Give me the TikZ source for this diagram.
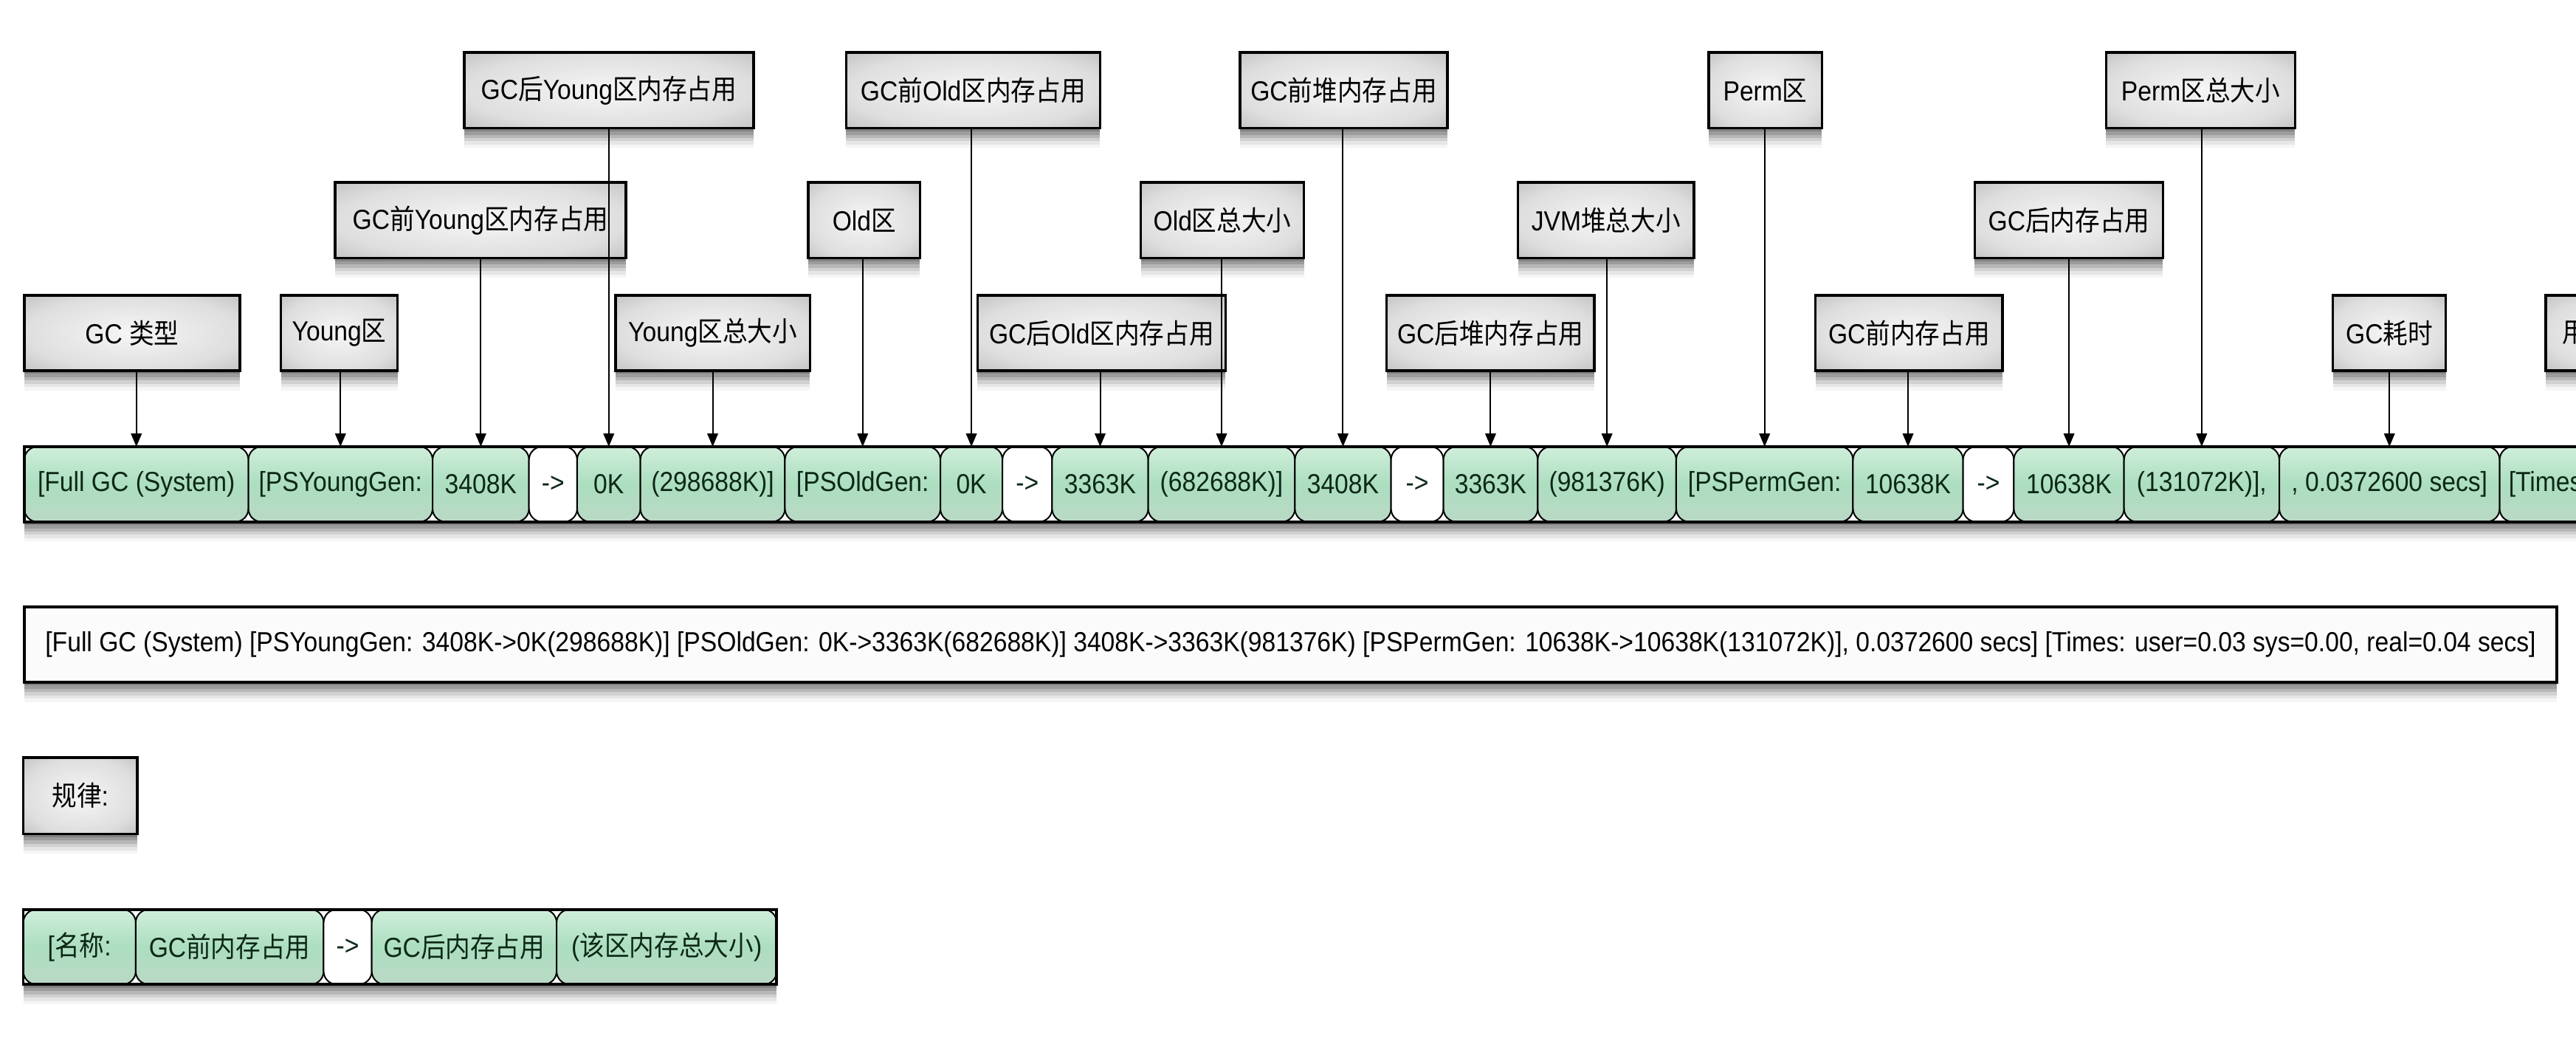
\documentclass[tikz,border=0pt]{standalone}
\usepackage{fontspec}
\setmainfont{Liberation Sans}[FakeStretch=0.9]
\newfontfamily\cjkf{Noto Sans CJK SC}[FakeStretch=0.9]
\newcommand\zhs[1]{{\cjkf #1}}
\newcommand\fsz{\fontsize{16.8pt}{20pt}\selectfont}
\usetikzlibrary{arrows.meta,shadows}
\definecolor{boxC}{RGB}{246,246,246}
\definecolor{boxM}{RGB}{222,222,222}
\definecolor{boxE}{RGB}{160,160,160}
\definecolor{cellT}{RGB}{238,249,242}
\definecolor{cellU}{RGB}{212,240,222}
\definecolor{cellM}{RGB}{172,222,192}
\definecolor{cellL}{RGB}{188,216,198}
\definecolor{cellB}{RGB}{206,212,208}
\definecolor{cellText}{RGB}{12,40,22}
\pgfdeclareradialshading{boxshade}{\pgfpoint{0bp}{0bp}}{color(0bp)=(boxC); color(25bp)=(boxM); color(50bp)=(boxE); color(75bp)=(boxE)}
\pgfdeclareverticalshading{cellshade}{100bp}{color(0bp)=(cellB); color(22bp)=(cellL); color(50bp)=(cellM); color(78bp)=(cellU); color(100bp)=(cellT)}
\tikzset{
  shdw/.style={
    general shadow={fill=black,opacity=.16,shadow yshift=-2pt},
    general shadow={fill=black,opacity=.14,shadow yshift=-4pt},
    general shadow={fill=black,opacity=.12,shadow yshift=-6pt},
    general shadow={fill=black,opacity=.09,shadow yshift=-8pt},
    general shadow={fill=black,opacity=.06,shadow yshift=-10pt},
    general shadow={fill=black,opacity=.04,shadow yshift=-12pt}},
  lbl/.style={draw, line width=1.6pt, shading=boxshade, shdw, inner sep=1pt,
    outer sep=0pt, font=\fsz, anchor=north west},
  cellbase/.style={draw, line width=0.9pt, rounded corners=8pt, inner sep=1pt,
    outer sep=0pt, minimum height=45.7pt, font=\fsz, text=cellText, anchor=west},
  gcell/.style={cellbase, shading=cellshade},
  wcell/.style={cellbase, fill=white},
  stripbg/.style={fill=white, shdw, inner sep=0pt, outer sep=0pt, anchor=north west},
  frame/.style={draw, line width=1.7pt},
  conn/.style={line width=0.9pt, -{Triangle[length=8pt,width=6.5pt]}},
  linebox/.style={draw, line width=1.7pt, fill=white!97!gray, shdw, inner sep=0pt,
    outer sep=0pt, font=\fsz, anchor=north west}
}
\begin{document}
\begin{tikzpicture}[x=1pt,y=-1pt]
\useasboundingbox (0,0) rectangle (1568,637);
\clip (0,0) rectangle (1568,637);
\fill[white] (0,0) rectangle (1568,637);

% ---- label boxes, top row
\node[lbl, minimum width=176.3pt, minimum height=46pt] (t1) at (282.5,32) {GC\zhs{后}Young\zhs{区内存占用}};
\node[lbl, minimum width=154.6pt, minimum height=46pt] (t2) at (515,32) {GC\zhs{前}Old\zhs{区内存占用}};
\node[lbl, minimum width=126.2pt, minimum height=46pt] (t3) at (754.8,32) {GC\zhs{前堆内存占用}};
\node[lbl, minimum width=69pt, minimum height=46pt] (t4) at (1040,32) {Perm\zhs{区}};
\node[lbl, minimum width=115pt, minimum height=46pt] (t5) at (1282,32) {Perm\zhs{区总大小}};
% ---- middle row
\node[lbl, minimum width=177pt, minimum height=46pt] (m1) at (204,111) {GC\zhs{前}Young\zhs{区内存占用}};
\node[lbl, minimum width=68pt, minimum height=46pt] (m2) at (492,111) {Old\zhs{区}};
\node[lbl, minimum width=99.3pt, minimum height=46pt] (m3) at (694.4,111) {Old\zhs{区总大小}};
\node[lbl, minimum width=107pt, minimum height=46pt] (m4) at (924,111) {JVM\zhs{堆总大小}};
\node[lbl, minimum width=114.6pt, minimum height=46pt] (m5) at (1202,111) {GC\zhs{后内存占用}};
% ---- lower row
\node[lbl, minimum width=131.2pt, minimum height=45.8pt] (b1) at (14.8,179.7) {GC \zhs{类型}};
\node[lbl, minimum width=71pt, minimum height=45.8pt] (b2) at (171,179.7) {Young\zhs{区}};
\node[lbl, minimum width=118.3pt, minimum height=45.8pt] (b3) at (374.7,179.7) {Young\zhs{区总大小}};
\node[lbl, minimum width=151pt, minimum height=45.8pt] (b4) at (595,179.7) {GC\zhs{后}Old\zhs{区内存占用}};
\node[lbl, minimum width=126.4pt, minimum height=45.8pt] (b5) at (844,179.7) {GC\zhs{后堆内存占用}};
\node[lbl, minimum width=114pt, minimum height=45.8pt] (b6) at (1105,179.7) {GC\zhs{前内存占用}};
\node[lbl, minimum width=68.7pt, minimum height=45.8pt] (b7) at (1420,179.7) {GC\zhs{耗时}};
\node[lbl, minimum height=45.8pt, text width=80pt, inner xsep=10pt, align=left] (b8) at (1549.5,179.7) {\zhs{用}};

% ---- main strip
\node[stripbg, minimum width=1600pt, minimum height=45.7pt] (strip) at (14.8,271.8) {};
\node[gcell, minimum width=136.4pt] (c1) at (14.8,294.65) {[Full GC (System)};
\node[gcell, minimum width=112.1pt] (c2) at (151.2,294.65) {[PSYoungGen:};
\node[gcell, minimum width=58.7pt] (c3) at (263.3,294.65) {3408K};
\node[wcell, minimum width=29.3pt] (c4) at (322,294.65) {->};
\node[gcell, minimum width=38.5pt] (c5) at (351.3,294.65) {0K};
\node[gcell, minimum width=88pt] (c6) at (389.8,294.65) {(298688K)]};
\node[gcell, minimum width=94.6pt] (c7) at (477.8,294.65) {[PSOldGen:};
\node[gcell, minimum width=37.8pt] (c8) at (572.4,294.65) {0K};
\node[wcell, minimum width=30.2pt] (c9) at (610.2,294.65) {->};
\node[gcell, minimum width=58.5pt] (c10) at (640.4,294.65) {3363K};
\node[gcell, minimum width=89.3pt] (c11) at (698.9,294.65) {(682688K)]};
\node[gcell, minimum width=58.5pt] (c12) at (788.2,294.65) {3408K};
\node[wcell, minimum width=31.9pt] (c13) at (846.7,294.65) {->};
\node[gcell, minimum width=57.4pt] (c14) at (878.6,294.65) {3363K};
\node[gcell, minimum width=84.3pt] (c15) at (936,294.65) {(981376K)};
\node[gcell, minimum width=107.6pt] (c16) at (1020.3,294.65) {[PSPermGen:};
\node[gcell, minimum width=67pt] (c17) at (1127.9,294.65) {10638K};
\node[wcell, minimum width=30.9pt] (c18) at (1194.9,294.65) {->};
\node[gcell, minimum width=67.1pt] (c19) at (1225.8,294.65) {10638K};
\node[gcell, minimum width=94.5pt] (c20) at (1292.9,294.65) {(131072K)],};
\node[gcell, minimum width=134.1pt] (c21) at (1387.4,294.65) {, 0.0372600 secs]};
\node[gcell, text width=140pt, inner xsep=5.5pt, align=left] (c22) at (1521.5,294.65) {[Times};
\draw[frame] (strip.north west) rectangle (strip.south east);

% ---- connectors
\foreach \b/\c in {t1/c5, t2/c8, t3/c12, t4/c16, t5/c20,
                   m1/c3, m2/c7, m3/c11, m4/c15, m5/c19,
                   b1/c1, b2/c2, b3/c6, b4/c10, b5/c14, b6/c17, b7/c21}
  \draw[conn] (\c.north |- \b.south) -- (\c.north);

% ---- full line
\node[linebox, minimum width=1541.3pt, minimum height=45.9pt] (full) at (15,369.2)
  {[Full GC (System) [PSYoungGen: 3408K->0K(298688K)] [PSOldGen: 0K->3363K(682688K)] 3408K->3363K(981376K) [PSPermGen: 10638K->10638K(131072K)], 0.0372600 secs] [Times: user=0.03 sys=0.00, real=0.04 secs]};

% ---- rule
\node[lbl, minimum width=69.3pt, minimum height=46.4pt] (rule) at (14.2,461) {\zhs{规律}:};

\node[stripbg, minimum width=458.6pt, minimum height=45.6pt] (strip2) at (14.2,553.4) {};
\node[gcell, minimum width=68.4pt, minimum height=45.6pt] (d1) at (14.2,576.2) {[\zhs{名称}:};
\node[gcell, minimum width=114.4pt, minimum height=45.6pt] (d2) at (82.6,576.2) {GC\zhs{前内存占用}};
\node[wcell, minimum width=29.3pt, minimum height=45.6pt] (d3) at (197,576.2) {->};
\node[gcell, minimum width=112.5pt, minimum height=45.6pt] (d4) at (226.3,576.2) {GC\zhs{后内存占用}};
\node[gcell, minimum width=134pt, minimum height=45.6pt] (d5) at (338.8,576.2) {(\zhs{该区内存总大小})};
\draw[frame] (strip2.north west) rectangle (strip2.south east);
\end{tikzpicture}
\end{document}
